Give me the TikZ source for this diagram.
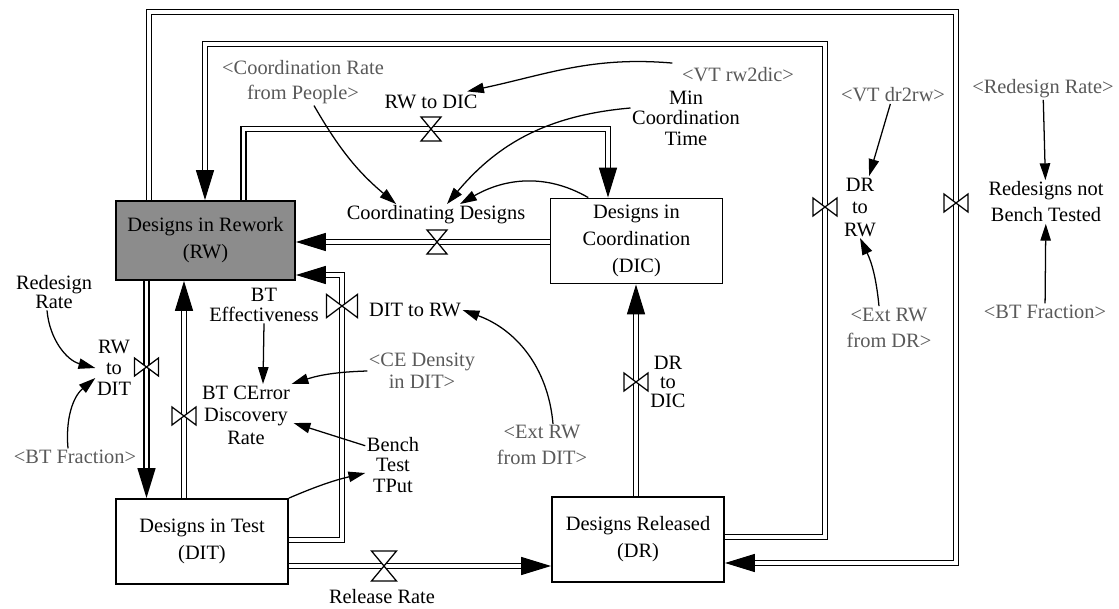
\documentclass[tikz,border=0pt]{standalone}
\usepackage{fontspec}
\setmainfont{Liberation Serif}
\usetikzlibrary{arrows.meta,positioning,calc}

\begin{document}
\begin{tikzpicture}[
    x=0.025cm, y=-0.025cm,
    font=\fontsize{14.5}{15}\selectfont,
    stock/.style={draw, line width=1.3pt, minimum width=4.3cm, minimum height=2.125cm, align=center, inner sep=0pt, font=\fontsize{14.5}{19.2}\selectfont},
    pipe/.style={draw, line width=1.05pt, double, double distance=2.8pt, -{Triangle[length=0.75cm, width=0.45cm]}},
    info/.style={draw, line width=0.9pt, -{Triangle[length=0.42cm, width=0.26cm]}},
    aux/.style={align=center, inner sep=1pt},
    shadow/.style={aux, text=black!65, font=\fontsize{14.5}{18}\selectfont},
    valveh/.pic={\draw[line width=0.9pt, fill=white] (-10,-12) -- (10,-12) -- (-10,12) -- (10,12) -- cycle;},
    valvev/.pic={\draw[line width=0.9pt, fill=white] (-12,-9) -- (-12,9) -- (12,-9) -- (12,9) -- cycle;}
]
\useasboundingbox (0,0) rectangle (1119,609);

% stocks
\node[stock, fill=black!45, minimum width=4.475cm, minimum height=1.975cm] (rw) at (205.5,240.5) {Designs in Rework\\(RW)};
\node[stock] (dic) at (636.5,241) {Designs in\\Coordination\\(DIC)};
\node[stock] (dit) at (202,541.5) {Designs in Test\\(DIT)};
\node[stock] (dr) at (638,539.5) {Designs Released\\(DR)};

% valve positions and pipe corners
\coordinate (v1) at (956,203);
\coordinate (v2) at (825,207);
\coordinate (v3) at (431,129);
\coordinate (v4) at (437,242);
\coordinate (v5) at (342,306);
\coordinate (v6) at (146.5,367);
\coordinate (v7) at (184,416);
\coordinate (v8) at (384,566);
\coordinate (v9) at (636,382);
\coordinate (c1a) at (149,12);
\coordinate (c1b) at (956,12);
\coordinate (c1c) at (956,563);
\coordinate (c2a) at (825,537);
\coordinate (c2b) at (825,44);
\coordinate (c2c) at (205,44);
\coordinate (c3a) at (243.5,129);
\coordinate (c3b) at (608,129);
\coordinate (c5a) at (342,540);
\coordinate (c5b) at (342,275);

% flows
\draw[pipe] (rw.north -| c1a) -- (c1a) -- (c1b) -- (c1c) -- (dr.east |- c1c);
\draw[pipe] (dr.east |- c2a) -- (c2a) -- (c2b) -- (c2c) -- (rw.north -| c2c);
\draw[pipe] (rw.north -| c3a) -- (c3a) -- (c3b) -- (dic.north -| c3b);
\draw[pipe] (dic.west |- v4) -- (rw.east |- v4);
\draw[pipe] (dit.east |- c5a) -- (c5a) -- (c5b) -- (rw.east |- c5b);
\draw[pipe] (rw.south -| v6) -- (dit.north -| v6);
\draw[pipe] (dit.north -| v7) -- (rw.south -| v7);
\draw[pipe] (dit.east |- v8) -- (dr.west |- v8);
\draw[pipe] (dr.north -| v9) -- (dic.south -| v9);

\pic at (v1) {valvev};
\pic at (v2) {valvev};
\pic at (v3) {valveh};
\pic at (v4) {valveh};
\pic[scale=1.3] at (v5) {valvev};
\pic at (v6) {valvev};
\pic at (v7) {valvev};
\pic[scale=1.25] at (v8) {valveh};
\pic at (v9) {valvev};

% flow names
\node[aux] (lrnbt) at (1046,202) [font=\fontsize{14.5}{18.5}\selectfont] {Redesigns not\\Bench Tested};
\node[aux] (ldrrw) at (860,207) [font=\fontsize{14.5}{16}\selectfont] {DR\\to\\RW};
\node[aux] (lrwdic) at (431,102) {RW to DIC};
\node[aux] (lcd) at (436,215) {Coordinating Designs};
\node[aux] (lditrw) at (415,310) {DIT to RW};
\node[aux] (lrwdit) at (114,368) {RW\\to\\DIT};
\node[aux] (lbtced) at (246,415) [font=\fontsize{14.5}{16}\selectfont] {BT CError\\Discovery\\Rate};
\node[aux] (lrel) at (382,597) {Release Rate};
\node[aux] (ldrdic) at (668,382) [font=\fontsize{14.5}{13.5}\selectfont] {DR\\to\\DIC};

% auxiliaries
\node[shadow] (crp) at (303,82) {<Coordination Rate\\from People>};
\node[shadow] (vtrw) at (738,75) {<VT rw2dic>};
\node[aux] (mct) at (686,118) [font=\fontsize{14.5}{14.5}\selectfont] {Min\\Coordination\\Time};
\node[shadow] (vtdr) at (893,95) {<VT dr2rw>};
\node[shadow] (exdr) at (889,328) [font=\fontsize{14.5}{19}\selectfont] {<Ext RW\\from DR>};
\node[shadow] (rr) at (1043,89) {<Redesign Rate>};
\node[shadow] (btfr) at (1045,312) {<BT Fraction>};
\node[aux] (rrl) at (54,292) [font=\fontsize{14.5}{13.5}\selectfont] {Redesign\\Rate};
\node[shadow] (btfl) at (75,457) {<BT Fraction>};
\node[aux] (bte) at (264,305) [font=\fontsize{14.5}{14}\selectfont] {BT\\Effectiveness};
\node[shadow] (ced) at (422,371) [font=\fontsize{14.5}{16}\selectfont] {<CE Density\\in DIT>};
\node[aux] (btt) at (393,465) [font=\fontsize{14.5}{14.5}\selectfont] {Bench\\Test\\TPut};
\node[shadow] (exdit) at (542,445) {<Ext RW\\from DIT>};

% information links
\draw[info] ($(crp.south)+(11,0)$) to[out=-60, in=140] ($(lcd.north west)+(51,0)$);
\draw[info] ($(vtrw.north west)+(-8,-3)$) to[out=175, in=12] ($(lrwdic.north east)+(-12,-2)$);
\draw[info] ($(mct.west)+(0,-10)$) to[out=185, in=50] ($(lcd.north)+(11,0)$);
\draw[info] (dic.138) to[out=150, in=30] ($(lcd.north)+(24,0)$);
\draw[info] (vtdr) -- (ldrrw);
\draw[info] ($(exdr.north)+(-10,0)$) to[bend right=10] (ldrrw.south);
\draw[info] (rr) -- (lrnbt);
\draw[info] (btfr) -- (lrnbt);
\draw[info] ($(rrl.south)+(-7,0)$) to[out=-85, in=165] (lrwdit.west);
\draw[info] ($(btfl.north)+(-7,0)$) to[out=95, in=-140] ($(lrwdit.west)+(0,10)$);
\draw[info] (bte.south) -- ($(lbtced.north)+(17,0)$);
\draw[info] (ced.west) to[bend right=8] (lbtced.north east);
\draw[info] ($(btt.north west)+(0,10)$) -- ($(lbtced.east)+(2,8)$);
\draw[info] (dit.north east) to[bend left=5] ($(btt.west)+(0,8)$);
\draw[info] ($(exdit.north)+(11,0)$) to[out=95, in=-20] (lditrw.east);
\end{tikzpicture}
\end{document}
